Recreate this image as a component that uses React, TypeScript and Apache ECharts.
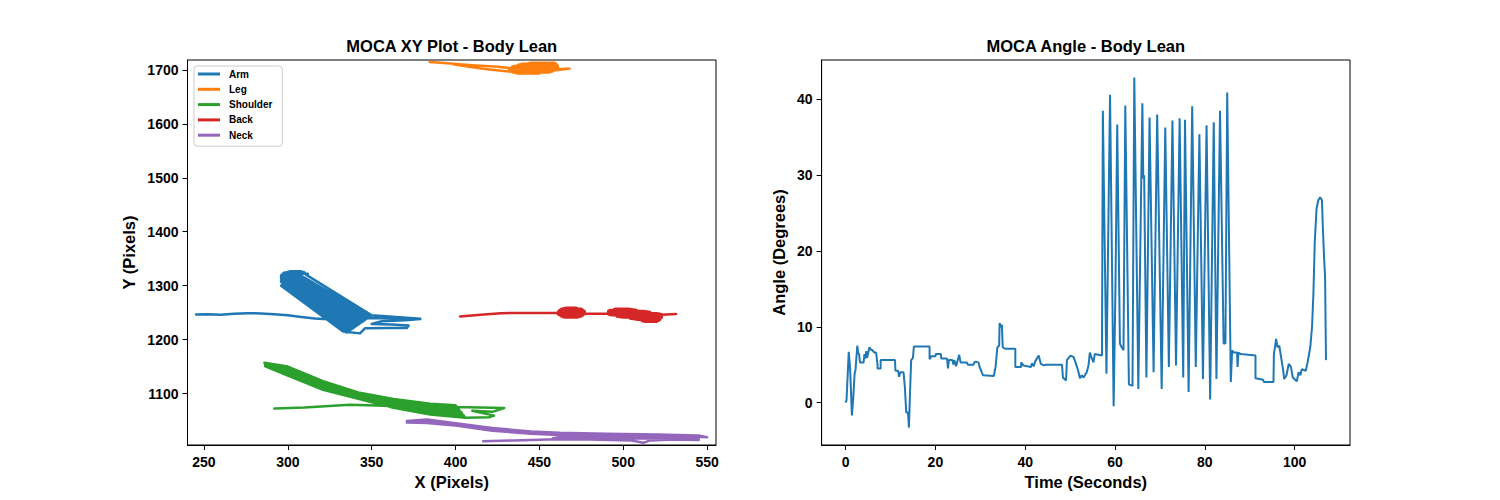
import { useEffect, useRef } from "react";
import * as echarts from "echarts";

const FONT = '"Liberation Sans", Arial, sans-serif';

// legend / colours (matplotlib tab10)
const partNames = ["Arm", "Leg", "Shoulder", "Back", "Neck"];
const partColors = ["#1f77b4", "#ff7f0e", "#2ca02c", "#d62728", "#9467bd"];

// tick labels
const xyTicksX = [250, 300, 350, 400, 450, 500, 550];
const xyTicksY = [1100, 1200, 1300, 1400, 1500, 1600, 1700];
const timeTicks = [0, 20, 40, 60, 80, 100];
const angleTicks = [0, 10, 20, 30, 40];

// XY traces, [x px, y px]
const armPoints = [
  [245.3, 1246.5], [252, 1247], [260, 1246], [268, 1248], [276, 1249], [284, 1248.5],
  [292, 1247], [300, 1245], [308, 1242], [316, 1239], [324, 1237.5], [332, 1240],
  [342, 1239.5], [352, 1240], [362, 1238.5], [372, 1239], [379, 1238.5],
  [350, 1245], [311, 1320], [312, 1322], [297, 1322], [298, 1324.5], [310, 1324.5],
  [308, 1326.5], [301, 1326.5], [297, 1322], [296, 1319], [305, 1319], [304, 1316],
  [296, 1316], [296, 1313], [303, 1313], [302, 1310], [296, 1310], [296, 1307],
  [300, 1307], [306, 1322],
  [349.2, 1243.4], [348.5, 1241.8], [305.1, 1320.1], [304.6, 1319.1], [347.8, 1240.2],
  [347, 1238.6], [304.2, 1318.2], [303.8, 1317.2], [346.2, 1237], [345.5, 1235.4],
  [303.3, 1316.3], [302.8, 1315.3], [344.8, 1233.8], [344, 1232.2], [302.4, 1314.4],
  [302, 1313.4], [343.2, 1230.6], [342.5, 1229], [301.5, 1312.5], [301, 1311.5],
  [341.8, 1227.4], [341, 1225.8], [300.6, 1310.6], [300.2, 1309.6], [340.2, 1224.2],
  [339.5, 1222.6], [299.7, 1308.7], [299.2, 1307.8], [338.8, 1221], [338, 1219.4],
  [298.8, 1306.8], [298.4, 1305.8], [337.2, 1217.8], [336.5, 1216.2], [297.9, 1304.9],
  [297.4, 1304], [335.8, 1214.6], [335, 1213], [297, 1303], [296, 1300], [333, 1215],
  [343, 1211.5], [346, 1221], [360, 1221.5], [371, 1221.5], [372, 1226], [362, 1228],
  [350, 1229], [356, 1234], [370, 1236], [379, 1238],
];

const legPoints = [
  [384.6, 1715], [395, 1712.5], [410, 1709], [425, 1706], [432, 1703.5], [461, 1703.5],
  [461, 1705.5], [433.5, 1705.5], [435, 1707.5], [461, 1707.5], [460.5, 1709.5], [437, 1709.5],
  [440, 1711.5], [460, 1711.5], [459, 1713.5], [445, 1713.5], [432, 1701.5], [461, 1701.5],
  [466, 1702.5], [468, 1702.5], [460, 1699.5], [432, 1699.5], [432.5, 1697.5], [458, 1697.5],
  [456, 1695.5], [434, 1695.5], [437, 1693.5], [450, 1693.5], [432, 1697], [420, 1701],
  [410, 1705], [398.5, 1710.5],
];

const shoulderPoints = [
  [292, 1072], [310, 1074], [337, 1079], [363, 1077], [400, 1075], [429, 1073],
  [422, 1066], [410, 1068], [423, 1059], [420, 1056], [406, 1055],
  [385, 1061], [363, 1073.5], [342, 1090], [321, 1107], [300, 1133], [287, 1150],
  [286.5, 1150.9], [300, 1135.1], [321, 1109], [342, 1091.5], [363, 1075.6], [385, 1063.5], [405.2, 1057.9],
  [404.5, 1060.8], [385, 1066], [363, 1077.6], [342, 1093], [321, 1111], [300, 1137.3], [286.5, 1151.8],
  [286.5, 1152.6], [300, 1139.4], [321, 1113], [342, 1094.5], [363, 1079.7], [385, 1068.5], [403.8, 1063.6],
  [403, 1066.5], [385, 1071], [363, 1081.8], [342, 1096], [321, 1115], [300, 1141.5], [286.5, 1153.5],
  [286.5, 1154.4], [300, 1143.6], [321, 1117], [342, 1097.5], [363, 1083.8], [385, 1073.5], [402.2, 1069.4],
  [401.5, 1072.3], [385, 1076], [363, 1085.9], [342, 1099], [321, 1119], [300, 1145.8], [286.5, 1155.3],
  [286.5, 1156.1], [300, 1147.9], [321, 1121], [342, 1100.5], [363, 1087.9], [385, 1078.5], [400.8, 1075.1],
  [400, 1078], [385, 1081], [363, 1090], [342, 1102], [321, 1123], [300, 1150], [286, 1157],
];

const backPoints = [
  [402.7, 1243], [415, 1246], [427, 1249], [448, 1249.5], [461, 1249.5],
  [461, 1251], [477, 1251], [477, 1253], [461.5, 1253], [462, 1255], [476, 1255],
  [475, 1257], [463, 1257], [466, 1259], [472, 1259], [477, 1249], [477, 1247],
  [461, 1247], [462, 1245], [476, 1245], [475, 1243], [463, 1243], [465, 1241],
  [473, 1241], [477, 1248], [491, 1248.5], [491, 1251], [516, 1251], [512, 1253],
  [491, 1253], [492, 1255], [508, 1255], [503, 1257], [495, 1257], [491, 1249],
  [520, 1249], [523, 1247], [491, 1247], [493, 1245], [523, 1245], [523, 1243],
  [496, 1243], [500, 1241], [523, 1241], [522, 1239], [504, 1239], [508, 1237],
  [522, 1237], [521, 1235], [511, 1235], [513, 1233], [520, 1233], [523, 1246],
  [531.5, 1247.5],
];

const neckPoints = [
  [416.5, 1011.5], [435, 1013], [455, 1014.5], [480, 1014.5], [505, 1013], [512, 1008.5],
  [516, 1013], [530, 1014.5], [545, 1014], [545, 1015.5], [530, 1016], [510, 1016.5],
  [480, 1017], [458, 1017], [462, 1019], [490, 1019], [520, 1018.5], [545, 1017],
  [545, 1018.5], [520, 1020.5], [490, 1021.5], [462, 1023], [445, 1025.5], [422, 1031],
  [400, 1040.5], [383, 1045.5], [371, 1046], [383, 1048], [400, 1042.5], [422, 1033.5],
  [445, 1027.5], [462, 1025], [490, 1023.5], [520, 1022], [545, 1020], [550, 1019],
  [545, 1022], [520, 1024], [490, 1025.5], [462, 1027], [445, 1029.5], [422, 1036],
  [400, 1045], [383, 1052], [371, 1049],
];

// angle trace
const timeSec = [
  0, 0.2, 0.7, 1.0, 1.4, 1.7, 2.0, 2.2, 2.6, 2.8, 3.0, 3.2, 4.0, 4.2, 4.4, 4.6, 4.8, 5.0,
  5.3, 5.6, 6.0, 6.4, 6.8, 7.1, 7.1, 7.8, 7.8, 11.0, 11.1, 11.7, 11.9, 12.2, 12.9, 13.2,
  13.5, 13.9, 14.1, 14.3, 14.6, 15.0, 15.2, 18.7, 18.7, 19.1, 20.0, 20.1, 21.2, 21.3,
  22.6, 22.8, 23.0, 23.8, 24.0, 24.2, 24.6, 25.3, 25.6, 27.0, 27.2, 28.5, 28.8, 29.6,
  29.9, 30.2, 30.6, 33.0, 33.4, 33.8, 34.2, 34.3, 34.6, 34.8, 35.0, 35.5, 37.8, 37.8,
  39.1, 39.1, 39.6, 41.3, 41.5, 41.9, 42.2, 43.0, 43.5, 44.2, 44.6, 48.2, 48.4, 49.1,
  49.3, 50.1, 50.8, 51.2, 51.8, 52.2, 52.6, 53.0, 53.7, 54.1, 54.4, 54.8, 55.2, 55.5,
  57.1, 57.3, 58.1, 58.9, 59.7, 60.1, 60.5, 61.1, 61.3, 61.9, 62.3, 63.1, 63.9, 64.3,
  65.2, 66.1, 66.3, 66.5, 67.0, 67.7, 68.6, 69.4, 70.4, 71.2, 72.0, 72.8, 73.6, 74.4,
  75.2, 75.6, 76.4, 77.2, 78.0, 78.8, 79.6, 80.4, 81.2, 82.0, 82.6, 83.4, 84.2, 84.6,
  85.0, 85.8, 86.1, 86.4, 87.2, 87.3, 87.5, 88.0, 91.3, 91.3, 93.0, 93.2, 95.3, 95.4,
  95.9, 96.2, 96.6, 97.0, 97.4, 97.7, 98.2, 98.7, 99.2, 99.6, 100.5, 100.9, 101.3,
  101.6, 102.5, 102.9, 103.5, 103.9, 104.2, 104.5, 104.9, 105.3, 105.7, 106.1, 106.3,
  106.6, 106.8, 107.0,
];
const angleDeg = [
  0, 0.3, 6.7, 4.5, -1.7, 0.6, 3.8, 4.3, 7.5, 6.5, 6.4, 5.3, 5.3, 6.4, 5.8, 6.8, 5.9, 6.5,
  7.3, 7.0, 6.9, 6.6, 6.6, 5.0, 4.5, 4.5, 5.6, 5.6, 4.2, 4.2, 3.4, 4.0, 4.0, 2.0,
  -1.3, -1.3, -3.3, 0.5, 5.6, 5.9, 7.4, 7.4, 5.7, 6.1, 6.1, 6.4, 6.4, 5.8,
  5.8, 4.5, 5.6, 5.6, 5.0, 5.6, 4.8, 6.3, 5.3, 5.3, 5.0, 5.0, 5.4, 5.3,
  4.6, 4.2, 3.6, 3.5, 4.7, 7.3, 7.5, 10.5, 9.9, 10.3, 7.3, 7.1, 7.1, 4.7,
  4.7, 5.3, 4.9, 4.7, 5.2, 4.8, 5.4, 6.2, 5.1, 4.9, 5.0, 5.0, 3.3, 2.9,
  5.6, 6.2, 6.0, 5.3, 4.2, 3.2, 3.6, 3.3, 4.0, 4.9, 6.6, 5.9, 5.3, 6.4,
  6.2, 38.5, 3.8, 40.6, -0.5, 15, 36.7, 7.8, 7.5, 6.9, 39.2, 2.4, 2.2, 42.9,
  1.8, 39.5, 29.6, 30, 3.3, 37.6, 4.0, 38.0, 1.8, 36.3, 4.7, 37.2, 4.9, 37.5,
  3.3, 37.3, 1.4, 39.1, 4.7, 35.4, 3.1, 36.6, 0.4, 37.0, 3.1, 38.5, 7.8, 7.8,
  40.9, 2.7, 6.9, 6.6, 6.6, 4.7, 6.6, 6.4, 6.2, 3.2, 3.0, 2.7, 2.7, 6.4,
  8.4, 7.3, 7.5, 6.0, 4.5, 3.1, 3.6, 5.1, 4.7, 3.3, 2.8, 4.0, 3.6,
  4.4, 4.2, 5.3, 7.3, 10.0, 14.4, 21.2, 25.6, 26.7, 27.1, 26.7, 23.2,
  18.8, 16.6, 5.6,
];

const partPoints = [armPoints, legPoints, shoulderPoints, backPoints, neckPoints];

function makeAxis(gridIndex: number, min: number, max: number, ticks: number[], name: string, nameGap: number, labelMargin: number) {
  return {
    type: "value",
    gridIndex,
    min,
    max,
    name,
    nameLocation: "middle",
    nameGap,
    nameTextStyle: { fontFamily: FONT, fontSize: 16.5, fontWeight: "bold", color: "#000" },
    axisLine: { show: true, onZero: false, lineStyle: { color: "#000", width: 1 } },
    axisTick: { show: true, inside: false, length: 5, customValues: ticks, lineStyle: { color: "#000", width: 1 } },
    axisLabel: {
      customValues: ticks,
      margin: labelMargin,
      formatter: (v: number) => String(v),
      color: "#000",
      fontFamily: FONT,
      fontSize: 14,
      fontWeight: "bold",
    },
    splitLine: { show: false },
  };
}

export default function App() {
  const chartRef = useRef<HTMLDivElement>(null);

  useEffect(() => {
    if (!chartRef.current) return;
    const chart = echarts.init(chartRef.current, null, { renderer: "svg" });

    const gridBox = { show: true, borderColor: "#000", borderWidth: 1, backgroundColor: "transparent" };
    const titleStyle = { fontFamily: FONT, fontSize: 16.5, fontWeight: "bold", color: "#000" };

    chart.setOption({
      animation: false,
      backgroundColor: "#fff",
      title: [
        { text: "MOCA XY Plot - Body Lean", left: 451.75, top: 37, textAlign: "center", padding: 0, textStyle: titleStyle },
        { text: "MOCA Angle - Body Lean", left: 1085.8, top: 37, textAlign: "center", padding: 0, textStyle: titleStyle },
      ],
      grid: [
        { left: 187.5, top: 60, width: 528.5, height: 385, ...gridBox },
        { left: 821.6, top: 60, width: 528.4, height: 385, ...gridBox },
      ],
      xAxis: [
        makeAxis(0, 240.2, 555.3, xyTicksX, "X (Pixels)", 28, 10),
        makeAxis(1, -5.35, 112.35, timeTicks, "Time (Seconds)", 28, 10),
      ],
      yAxis: [
        makeAxis(0, 1004.5, 1718.5, xyTicksY, "Y (Pixels)", 50, 9),
        makeAxis(1, -5.6, 45.2, angleTicks, "Angle (Degrees)", 34, 9),
      ],
      legend: {
        left: 194,
        top: 66,
        orient: "vertical",
        data: partNames,
        icon: "rect",
        itemWidth: 22,
        itemHeight: 3,
        itemGap: 3.3,
        padding: [2, 10, 5, 4],
        backgroundColor: "rgba(255,255,255,0.8)",
        borderColor: "#cccccc",
        borderWidth: 1,
        borderRadius: 3,
        selectedMode: false,
        textStyle: { fontFamily: FONT, fontSize: 10, fontWeight: "bold", color: "#000", lineHeight: 12, padding: [0, 0, 0, 4] },
      },
      series: [
        ...partNames.map((name, i) => ({
          name,
          type: "line",
          xAxisIndex: 0,
          yAxisIndex: 0,
          data: partPoints[i],
          color: partColors[i],
          showSymbol: false,
          symbol: "none",
          lineStyle: { width: 2.5, color: partColors[i], join: "round", cap: "round" },
        })),
        {
          name: "Angle",
          type: "line",
          xAxisIndex: 1,
          yAxisIndex: 1,
          data: timeSec.map((t, i) => [t, angleDeg[i]]),
          showSymbol: false,
          symbol: "none",
          color: "#1f77b4",
          lineStyle: { width: 2, color: "#1f77b4" },
        },
      ],
    });

    return () => chart.dispose();
  }, []);

  return <div ref={chartRef} style={{ position: "fixed", left: 0, top: 0, width: 1500, height: 500 }} />;
}
